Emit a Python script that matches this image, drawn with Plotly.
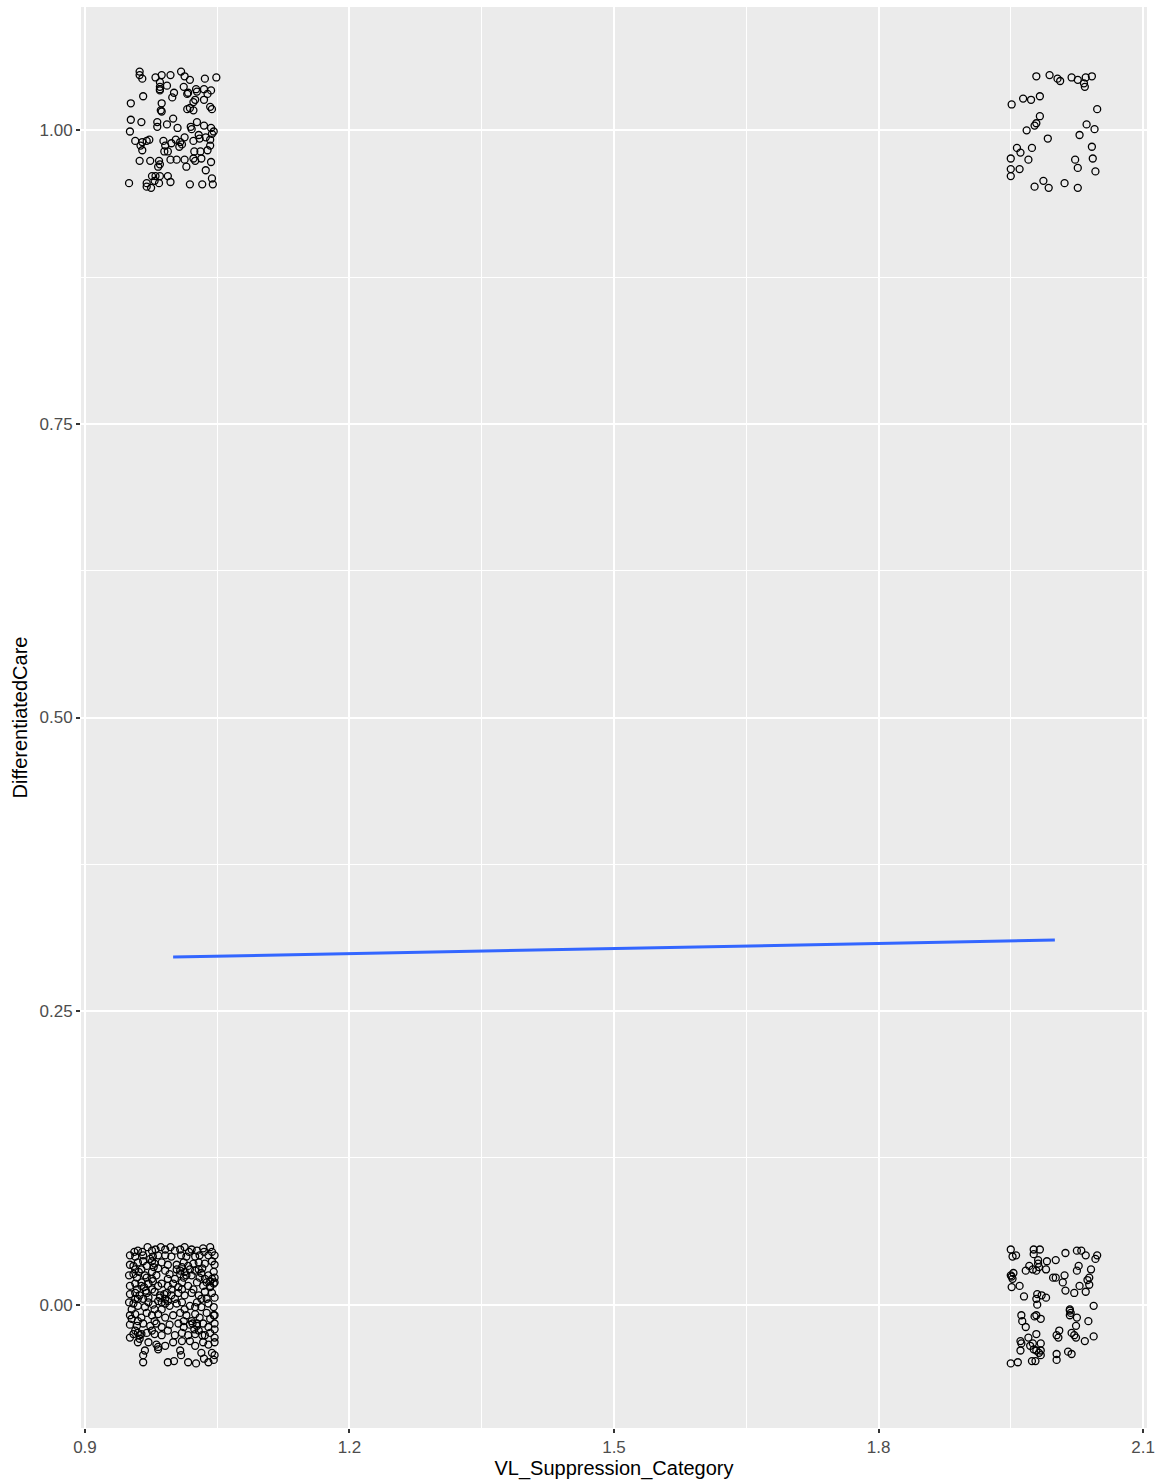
import plotly.graph_objects as go

# Group centres (category value, DifferentiatedCare value) of the four jittered clusters
cluster_x = [1, 1, 2, 2]
cluster_y = [0, 1, 0, 1]

# Jitter offsets, in thousandths of a data unit
# Cluster VL=1, DC=0
jx_1_0 = [-44,-40,-35,-29,-24,-20,-14,-9,-3,2,8,13,18,27,34,35,44,47,-34,-43,-26,-23,-17,-2,9,15,25,30,40,
          -49,-45,-40,-34,-30,-24,-21,-13,-6,4,12,17,23,29,36,44,47,4,29,-43,-36,-17,
          -50,-45,-39,-32,-24,-19,-9,-4,8,13,21,32,40,46,47,2,36,42,
          -49,-43,-36,-28,-23,-13,-6,0,10,17,27,34,46,-24,23,
          -49,-43,-38,-30,-21,-15,-7,-2,6,13,21,29,36,44,47,-34,2,32,
          -50,-45,-40,-28,-23,-17,-9,-4,4,10,19,27,32,40,46,-21,13,
          -49,-43,-36,-30,-24,-17,-9,0,8,15,25,30,38,46,-40,21,
          -49,-41,-34,-26,-19,-13,-4,6,12,19,27,34,40,47,-6,29,
          -45,-38,-30,-21,-13,2,10,17,25,33,42,47,-38,
          -40,-19,-17,0,10,25,34,40,47,-9,
          -32,-34,-34,-17,-6,1,8,9,17,26,32,35,40,44,47,46,
          -41,-33,-17,6,30,42,-47,-32,-13,25,38,-43,-24,12,42,-49,-9,21,42,-22,19,-6,-43,-9,-21,36,-28,19,47,-49,
          -41,-36,-31,-40,-28,-15,-10,-6,-13,8,12,15,10,38,44,42,47,-40,-36,22,27,24,-24,-30,25,33,-2,10,-47,47]
jy_1_0 = [45,46,45,49,46,47,49,47,49,46,47,49,45,46,48,45,45,42,42,41,39,41,42,41,42,41,41,42,42,
          34,33,36,37,33,37,35,36,34,34,36,33,35,36,35,37,34,30,30,30,30,31,
          25,26,28,25,28,25,29,26,26,28,25,27,25,28,23,22,22,20,
          16,18,19,18,20,18,16,18,19,16,19,16,18,13,13,
          9,10,8,10,11,8,10,8,10,8,10,8,11,10,6,5,5,5,
          2,1,-1,2,0,3,1,-1,1,2,-1,2,-2,1,-2,-4,-4,
          -9,-8,-11,-7,-9,-8,-11,-9,-7,-9,-8,-11,-7,-9,-14,-14,
          -17,-18,-16,-18,-16,-19,-17,-16,-19,-17,-18,-16,-19,-16,-22,-22,
          -25,-26,-24,-25,-26,-26,-24,-26,-25,-26,-24,-28,-29,
          -32,-34,-36,-32,-31,-35,-32,-34,-32,-35,
          -39,-43,-49,-38,-49,-48,-39,-43,-49,-50,-41,-46,-49,-41,-43,-47,
          23,15,16,15,23,15,-4,-2,-4,-2,5,-22,-22,-14,-12,42,42,47,49,32,30,22,5,5,-14,-26,-32,-31,-9,-28,
          13,16,12,5,6,6,9,3,2,29,23,25,32,19,22,16,19,-24,-25,-16,-16,-21,22,23,29,31,13,13,-12,-21]

# Cluster VL=1, DC=1
jx_1_1 = [-38,-38,-20,-13,-3,9,13,-15,36,49,
          -15,-15,-7,12,17,26,27,35,43,1,
          -1,-34,39,25,23,-48,-13,-14,-13,19,
          16,23,42,44,-48,-36,-18,-18,-7,0,
          -49,20,21,35,43,46,44,-35,-37,-30,
          -27,-11,-2,3,10,7,13,23,29,30,
          37,42,-35,-10,-6,-38,-3,4,13,24,
          31,39,23,32,43,-16,-15,-17,15,37,
          -24,-20,-15,-6,-30,-30,-25,-50,-16,-3,
          19,33,45,
          -35,-15,16,35,27,-9,8,25,42,-26,5,19,-43,-21,44]
jy_1_1 = [50,47,45,47,47,50,46,41,44,45,
          35,34,38,37,32,35,33,35,34,32,
          28,29,31,26,24,23,23,17,16,19,
          18,17,20,18,9,7,7,3,5,10,
          -1,3,1,4,2,-1,-3,-10,-13,-9,
          -8,-9,-11,-8,-12,-14,-6,-9,-4,-7,
          -6,-8,-17,-18,-18,-26,-25,-25,-25,-18,
          -18,-17,-24,-24,-27,-26,-29,-31,-31,-34,
          -39,-39,-39,-39,-45,-48,-49,-45,-45,-44,
          -46,-46,-46,
          44,37,31,26,7,-13,-10,-26,-13,-26,2,43,-9,-43,-41]

# Cluster VL=2, DC=0
jx_2_0 = [-50,-48,-44,-24,-17,-24,-19,-9,1,12,
          25,30,35,48,46,-19,-29,-25,-18,-10,
          -21,-33,27,25,41,-50,-47,-48,-49,-40,
          -2,1,11,9,39,37,28,39,-35,-20,
          -15,-10,-21,-20,12,22,35,44,17,18,
          17,25,-38,-23,-21,-16,-37,-33,38,24,
          5,2,4,19,22,24,-21,-30,-39,-38,
          -39,-25,-16,-24,-21,-18,-16,-22,-26,2,
          2,15,19,34,44,-50,-42,-28,-16,17,
          -49]
jy_2_0 = [47,41,42,47,47,43,38,37,38,44,
          46,46,42,42,39,35,33,30,32,30,
          29,29,33,29,30,25,27,22,15,16,
          23,23,25,19,23,21,16,17,7,9,
          8,6,5,0,12,10,11,-1,-4,-7,
          -9,-11,-9,-10,-9,-12,-14,-19,-14,-18,
          -22,-26,-28,-24,-26,-28,-25,-28,-31,-33,
          -39,-33,-33,-38,-39,-41,-43,-48,-48,-42,
          -47,-40,-42,-31,-27,-50,-49,-35,-39,-5,
          24]

# Cluster VL=2, DC=1
jx_2_1 = [-21,-6,3,6,19,26,33,34,35,42,
          -49,-36,-27,-17,48,-17,-21,-23,-32,36,
          45,-8,28,-43,-39,-26,42,-50,-30,43,
          23,-50,-40,26,46,-50,-13,-23,-7,11,
          26]
jy_2_1 = [46,47,44,42,45,43,40,37,45,46,
          22,27,26,29,18,12,6,4,0,5,
          1,-7,-4,-15,-19,-15,-14,-24,-25,-24,
          -25,-33,-33,-32,-35,-39,-43,-48,-49,-45,
          -49]

# Fitted linear trend (geom_smooth, method = lm)
fit_x = [1, 2]
fit_y = [0.296, 0.3105]

x_ticks = [0.9, 1.2, 1.5, 1.8, 2.1]
y_ticks = [0.0, 0.25, 0.5, 0.75, 1.0]

jitters = [(jx_1_0, jy_1_0), (jx_1_1, jy_1_1), (jx_2_0, jy_2_0), (jx_2_1, jy_2_1)]

xs, ys = [], []
for cx, cy, (jx, jy) in zip(cluster_x, cluster_y, jitters):
    assert len(jx) == len(jy), (cx, cy, len(jx), len(jy))
    xs += [cx + v / 1000 for v in jx]
    ys += [cy + v / 1000 for v in jy]

fig = go.Figure()
fig.add_trace(go.Scatter(
    x=xs, y=ys, mode="markers",
    marker=dict(symbol="circle-open", size=7, color="black", line=dict(width=1.3, color="black")),
    showlegend=False, hoverinfo="x+y"))
fig.add_trace(go.Scatter(
    x=fit_x, y=fit_y, mode="lines",
    line=dict(color="#3366FF", width=3),
    showlegend=False))

font_family = "Liberation Sans, Arial, Helvetica, sans-serif"
axis_common = dict(
    automargin=False,
    showgrid=True, gridcolor="white", gridwidth=2,
    zeroline=False, showline=False,
    ticks="outside", ticklen=4, tickwidth=1.5, tickcolor="#333333",
    tickfont=dict(family=font_family, size=17, color="#4D4D4D"),
)

fig.update_layout(
    width=1157, height=1484,
    margin=dict(l=81, r=10, t=7, b=56, pad=0),
    paper_bgcolor="white", plot_bgcolor="#EBEBEB",
    font=dict(family=font_family, color="black"),
    xaxis=dict(
        range=[0.8955, 2.1045], tickvals=x_ticks, ticktext=[f"{v:.1f}" for v in x_ticks],
        minor=dict(tickvals=[1.05, 1.35, 1.65, 1.95], showgrid=True, gridcolor="white", gridwidth=1, ticks=""),
        title=dict(text="VL_Suppression_Category", font=dict(family=font_family, size=20, color="black"), standoff=2),
        **axis_common),
    yaxis=dict(
        range=[-0.105, 1.105], tickvals=y_ticks, ticktext=[f"{v:.2f}" for v in y_ticks],
        minor=dict(tickvals=[0.125, 0.375, 0.625, 0.875], showgrid=True, gridcolor="white", gridwidth=1, ticks=""),
        title=dict(text="DifferentiatedCare", font=dict(family=font_family, size=20, color="black"), standoff=6),
        **axis_common),
)

fig.write_html("out.html", config={"displayModeBar": False},
               post_script="document.body.style.margin='0';")
